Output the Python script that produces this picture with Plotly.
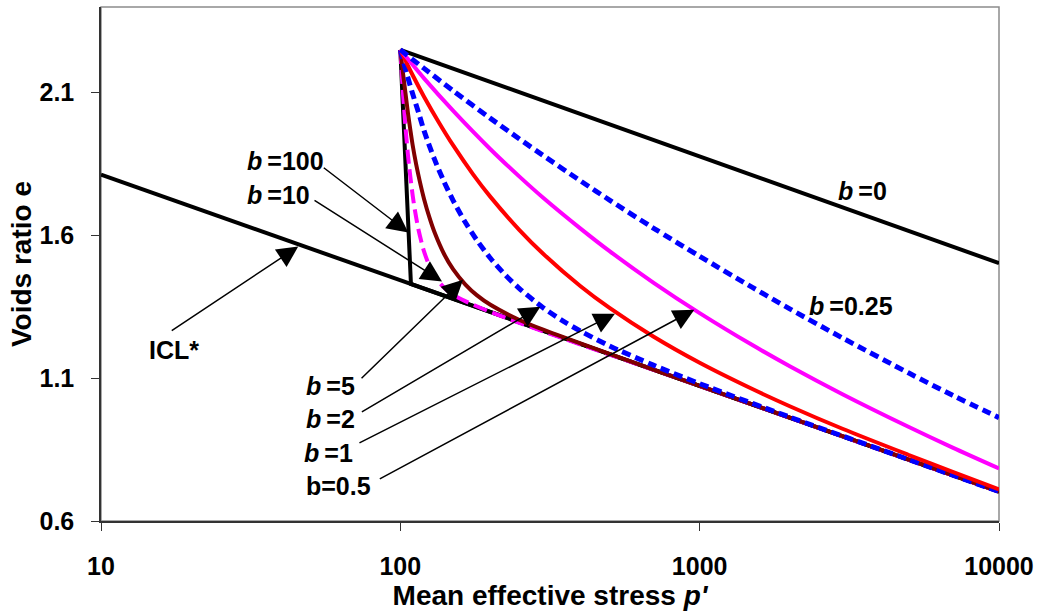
import plotly.graph_objects as go
import math

# ---------------- data ----------------
p_icl = [10, 10000]
e_icl = [1.813, 0.703]

p_b0 = [100, 10000]
e_b0 = [2.250, 1.503]

p_b025 = [100, 120, 150, 200, 250, 300, 400, 500, 700, 1000, 1500, 2000, 3000, 5000, 7000, 10000]
e_b025 = [2.250, 2.185, 2.107, 2.010, 1.938, 1.880, 1.791, 1.724, 1.626, 1.527, 1.418, 1.343, 1.241, 1.118, 1.040, 0.962]

p_b05 = [100, 120, 150, 200, 250, 300, 400, 500, 700, 1000, 1500, 2000, 3000, 5000, 7000, 10000]
e_b05 = [2.250, 2.150, 2.037, 1.902, 1.806, 1.732, 1.624, 1.545, 1.435, 1.328, 1.216, 1.142, 1.044, 0.929, 0.857, 0.784]

p_b1 = [100, 110, 120, 135, 150, 175, 200, 250, 300, 400, 500, 700, 1000, 1500, 2000, 3000, 5000, 7000, 10000]
e_b1 = [2.250, 2.161, 2.086, 1.993, 1.916, 1.814, 1.735, 1.619, 1.536, 1.422, 1.346, 1.246, 1.154, 1.062, 1.002, 0.923, 0.831, 0.772, 0.711]

p_b2 = [100, 105, 110, 115, 120, 130, 140, 150, 165, 180, 200, 225, 250, 300, 350, 400, 500, 700, 1000, 2000, 5000, 10000]
e_b2 = [2.250, 2.167, 2.095, 2.031, 1.967, 1.867, 1.788, 1.723, 1.645, 1.584, 1.520, 1.460, 1.414, 1.347, 1.300, 1.265, 1.213, 1.146, 1.081, 0.964, 0.815, 0.703]

p_b5 = [100, 102, 104, 106, 108, 110, 113, 116, 120, 125, 130, 140, 150, 165, 180, 200, 250, 300, 500, 1000, 3000, 10000]
e_b5 = [2.250, 2.171, 2.100, 2.030, 1.970, 1.915, 1.848, 1.792, 1.728, 1.664, 1.612, 1.535, 1.482, 1.428, 1.391, 1.357, 1.304, 1.270, 1.185, 1.073, 0.897, 0.703]

p_b10 = [100, 101, 102, 103, 104, 105, 106, 107, 108, 110, 112, 115, 120, 125, 130, 140, 150, 200, 1000, 10000]
e_b10 = [2.250, 2.172, 2.102, 2.039, 1.982, 1.931, 1.884, 1.842, 1.806, 1.739, 1.685, 1.620, 1.544, 1.494, 1.459, 1.417, 1.392, 1.332, 1.073, 0.703]

p_b100 = [100, 108.5, 10000]
e_b100 = [2.250, 1.430, 0.703]

x_ticks = [10, 100, 1000, 10000]
y_ticks = [0.6, 1.1, 1.6, 2.1]

# label texts and positions (p, e)
labels = [
    ("<b><i>b</i>\u2009=100</b>", 41.3, 1.862),
    ("<b><i>b</i>\u2009=10</b>", 39.1, 1.740),
    ("<b>ICL*</b>", 17.6, 1.199),
    ("<b><i>b</i>\u2009=0.25</b>", 3212, 1.354),
    ("<b><i>b</i>\u2009=0</b>", 3500, 1.754),
    ("<b><i>b</i>\u2009=5</b>", 58.3, 1.073),
    ("<b><i>b</i>\u2009=2</b>", 58.3, 0.957),
    ("<b><i>b</i>\u2009=1</b>", 57.4, 0.838),
    ("<b>b=0.5</b>", 62.1, 0.722),
]
# arrows: tip (p, e), tail offset in pixels (dx, dy)
arrows = [
    (106.3, 1.610, -86, -66),
    (137.8, 1.439, -129, -82),
    (45.6, 1.561, -128, 85),
    (162.0, 1.445, -103, 100),
    (293.7, 1.350, -180, 106),
    (521.2, 1.326, -257, 130),
    (959.7, 1.340, -316, 170),
]

FONT = "Liberation Sans, Arial, sans-serif"

fig = go.Figure()

def add_line(px, ey, color, width, dash="solid", shape="linear"):
    fig.add_trace(go.Scatter(x=px, y=ey, mode="lines",
                             line=dict(color=color, width=width, dash=dash, shape=shape, smoothing=0.8),
                             hoverinfo="skip", showlegend=False))

add_line(p_icl, e_icl, "#000000", 4)
add_line(p_b0, e_b0, "#000000", 4)
add_line(p_b100, e_b100, "#000000", 4)
add_line(p_b10, e_b10, "#FF00FF", 4, dash="14px,6px", shape="spline")
add_line(p_b5, e_b5, "#800000", 4, shape="spline")
add_line(p_b2, e_b2, "#0000FF", 5, dash="9px,5px", shape="spline")
add_line(p_b1, e_b1, "#FF0000", 4, shape="spline")
add_line(p_b05, e_b05, "#FF00FF", 4, shape="spline")
add_line(p_b025, e_b025, "#0000FF", 5, dash="9px,5px", shape="spline")

annotations = []
for txt, px, ey in labels:
    annotations.append(dict(x=math.log10(px), y=ey, xref="x", yref="y", text=txt,
                            showarrow=False, xanchor="center", yanchor="middle",
                            font=dict(family=FONT, size=25, color="#000000")))
for px, ey, dx, dy in arrows:
    annotations.append(dict(x=math.log10(px), y=ey, xref="x", yref="y", text="",
                            showarrow=True, arrowhead=2, arrowsize=2.8, arrowwidth=1.5,
                            arrowcolor="#000000", ax=dx, ay=dy, standoff=0))

fig.update_layout(
    width=1043, height=616,
    margin=dict(l=101, r=44, t=7, b=95),
    paper_bgcolor="white", plot_bgcolor="white",
    showlegend=False,
    annotations=annotations,
    shapes=[dict(type="rect", xref="paper", yref="paper", x0=0, y0=0, x1=1, y1=1,
                 line=dict(color="#8c8c8c", width=1.5), layer="below")],
)

fig.update_xaxes(type="log", range=[1, 4], tickvals=x_ticks, ticktext=[str(v) for v in x_ticks],
                 showgrid=False, zeroline=False, showline=True, linecolor="#333333", linewidth=1.5,
                 ticks="outside", ticklen=8, tickwidth=1.2, tickcolor="#333333",
                 ticklabelstandoff=14,
                 tickfont=dict(family=FONT, size=25, color="#000000", weight="bold"),
                 title=dict(text="<b>Mean effective stress <i>p'</i></b>", standoff=3,
                            font=dict(family=FONT, size=28, color="#000000")))
fig.update_yaxes(range=[0.6, 2.4], tickvals=y_ticks, ticktext=[f"{v:.1f}" for v in y_ticks],
                 showgrid=False, zeroline=False, showline=True, linecolor="#333333", linewidth=1.5,
                 ticks="outside", ticklen=8, tickwidth=1.2, tickcolor="#333333",
                 ticklabelstandoff=12,
                 tickfont=dict(family=FONT, size=25, color="#000000", weight="bold"),
                 title=dict(text="<b>Voids ratio e</b>", standoff=0,
                            font=dict(family=FONT, size=28, color="#000000")))

fig.write_html("out.html")
